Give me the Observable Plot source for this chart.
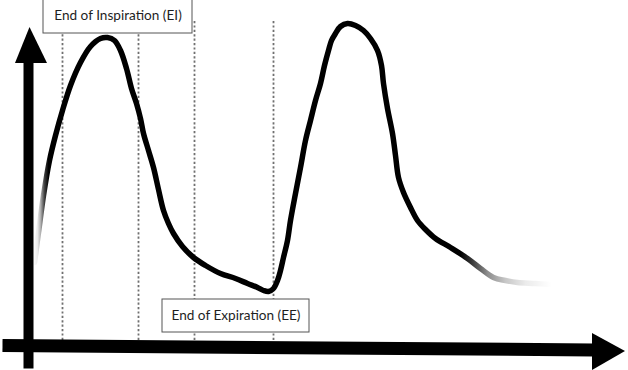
<!DOCTYPE html>
<html>
<head>
<meta charset="utf-8">
<script src="https://cdn.jsdelivr.net/npm/d3@7"></script>
<script src="https://cdn.jsdelivr.net/npm/@observablehq/plot@0.6"></script>
<style>
  html, body { margin: 0; padding: 0; background: #fff; }
  #chart { width: 628px; height: 370px; overflow: hidden; }
</style>
</head>
<body>
<div id="chart"></div>
<script>
// Breathing curve (time units, volume units)
const time = [7,11,16,22,28,35,43,53,63,73, 80,87,93,99,104,109,113,116,121,126, 131,136,141,146,155,166,178,193,208,220, 230,236,241,246,250,253,256,260,263,268, 273,278,283,288,293,297,301,304,308,313, 320,328,336,343,350,354,356,360,365,368, 371,376,383,390,398,408,423,440,453, 466,478,490,508,523];
const volume = [83,113,150,185,210,235,260,283,299,307, 308,305,295,277,257,242,227,212,195,178, 156,135,122,112,99,88,80,72,67,62, 58,55,54,57,65,75,88,105,125,152, 178,205,225,245,262,280,295,305,312,319, 322,320,315,307,295,280,262,237,212,190, 168,153,138,125,116,107,98,87,77, 68,65,63,62,61];

// Dashed markers (time positions) and their vertical extents
const markerTimes = [35, 111, 167, 246];
const markerTop = 325;
const markerBottom = 5;

// Annotation boxes
const labels = ["End of Inspiration (EI)", "End of Expiration (EE)"];
const labelT1 = [16, 135];
const labelT2 = [165, 282];
const labelV1 = [312, 13];
const labelV2 = [347, 46];

const curve = time.map((t, i) => ({t, v: volume[i]}));
const markers = markerTimes.map(t => ({t, v1: markerBottom, v2: markerTop}));
const boxes = labels.map((label, i) => ({
  label, t1: labelT1[i], t2: labelT2[i], v1: labelV1[i], v2: labelV2[i],
  tm: (labelT1[i] + labelT2[i]) / 2, vm: (labelV1[i] + labelV2[i]) / 2
}));

// Axis geometry (decoration)
const yAxisShaft = [{t1: 1, v1: -23, t2: 1, v2: 283}];
const yHead = [{v: 282, a: -12, b: 20}, {v: 318, a: 2.5, b: 2.5}];
const xAxisShaft = [{t1: -25, v1: 0, t2: 566, v2: -4.5}];
const xHead = [{t: 565, a: 12, b: -25}, {t: 598, a: -6, b: -6}];

const plot = Plot.plot({
  width: 628,
  height: 370,
  margin: 0,
  x: {domain: [-27, 601], range: [0, 628], axis: null},
  y: {domain: [-25, 345], range: [370, 0], axis: null},
  style: {background: "#fff"},
  marks: [
    Plot.ruleX(markers, {x: "t", y1: "v1", y2: "v2", stroke: "#707070", strokeWidth: 1.8, strokeDasharray: "2.2,2.2"}),
    Plot.rect(boxes, {x1: "t1", x2: "t2", y1: "v1", y2: "v2", fill: "#fff", stroke: "#555", strokeWidth: 1}),
    Plot.text(boxes, {x: "tm", y: "vm", text: "label", fill: "#1e1e1e", fontSize: 13.6, fontFamily: "Lato", textAnchor: "middle"}),
    Plot.line(curve, {x: "t", y: "v", stroke: "#000", strokeWidth: 5.5, curve: "catmull-rom", strokeLinecap: "round", strokeLinejoin: "round"}),
    Plot.link(yAxisShaft, {x1: "t1", y1: "v1", x2: "t2", y2: "v2", stroke: "#000", strokeWidth: 10}),
    Plot.areaX(yHead, {y: "v", x1: "a", x2: "b", fill: "#000"}),
    Plot.link(xAxisShaft, {x1: "t1", y1: "v1", x2: "t2", y2: "v2", stroke: "#000", strokeWidth: 13}),
    Plot.areaY(xHead, {x: "t", y1: "a", y2: "b", fill: "#000"})
  ]
});

// Gradient fade at both ends of the curve
const xs = plot.scale("x");
const gx1 = xs.apply(6), gx2 = xs.apply(524);
const off = t => (xs.apply(t) - gx1) / (gx2 - gx1);
const ns = "http://www.w3.org/2000/svg";
const defs = document.createElementNS(ns, "defs");
const grad = document.createElementNS(ns, "linearGradient");
grad.setAttribute("id", "fade");
grad.setAttribute("gradientUnits", "userSpaceOnUse");
grad.setAttribute("x1", gx1); grad.setAttribute("x2", gx2);
grad.setAttribute("y1", 0); grad.setAttribute("y2", 0);
[[6, 0], [10, 0.08], [13, 0.3], [17, 0.75], [21, 1], [433, 1], [446, 0.75], [460, 0.45], [478, 0.22], [498, 0.08], [524, 0]].forEach(([t, o]) => {
  const s = document.createElementNS(ns, "stop");
  s.setAttribute("offset", off(t));
  s.setAttribute("stop-color", "#000");
  s.setAttribute("stop-opacity", o);
  grad.appendChild(s);
});
defs.appendChild(grad);
plot.insertBefore(defs, plot.firstChild);
plot.querySelectorAll('g[aria-label="line"] path').forEach(p => p.setAttribute("stroke", "url(#fade)"));
const lg = plot.querySelector('g[aria-label="line"]');
if (lg) lg.setAttribute("stroke", "url(#fade)");

document.getElementById("chart").appendChild(plot);
</script>
</body>
</html>
